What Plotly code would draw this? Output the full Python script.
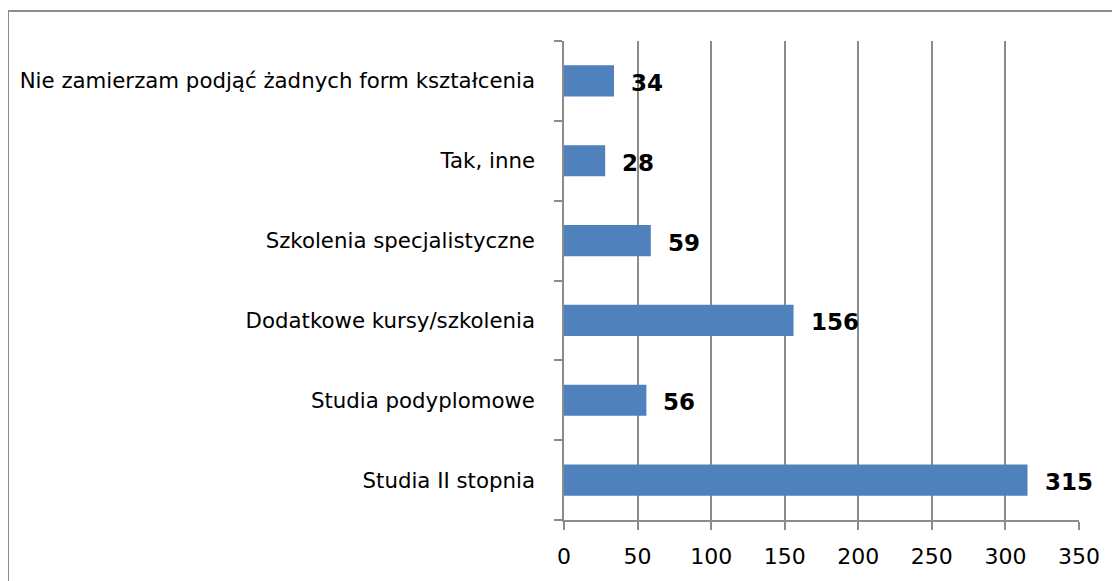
import plotly.graph_objects as go

categories = [
    "Studia II stopnia",
    "Studia podyplomowe",
    "Dodatkowe kursy/szkolenia",
    "Szkolenia specjalistyczne",
    "Tak, inne",
    "Nie zamierzam podjąć żadnych form kształcenia",
]
values = [315, 56, 156, 59, 28, 34]
x_ticks = [0, 50, 100, 150, 200, 250, 300, 350]

# page has an 8px body margin, so the figure is sized to fit the window
W, H = 1112, 573
L, R, T, B = 556, 41, 33, 61
grey = "#8c8c8c"
font = "DejaVu Sans, Verdana, sans-serif"

fig = go.Figure(go.Bar(
    x=values, y=categories, orientation="h",
    marker=dict(color="#4f81bd", line=dict(width=0)),
    hoverinfo="skip",
))

for c, v in zip(categories, values):
    fig.add_annotation(
        x=v, y=c, text="<b>%d</b>" % v, showarrow=False,
        xanchor="left", yanchor="middle", xshift=15, yshift=-2,
        font=dict(size=23, color="black", family=font),
    )

# outer chart border (left and top edges visible)
pw, ph = W - L - R, H - T - B
fig.add_shape(
    type="rect", xref="paper", yref="paper",
    x0=(0 - L) / pw, x1=(W + 20 - L) / pw,
    y0=-(B + 20) / ph, y1=(H - 3 - B) / ph,
    line=dict(color=grey, width=2), fillcolor="rgba(0,0,0,0)",
    layer="below",
)

fig.update_layout(
    width=W, height=H,
    margin=dict(l=L, r=R, t=T, b=B),
    paper_bgcolor="white", plot_bgcolor="white",
    bargap=0.61, showlegend=False,
    font=dict(family=font, color="black", size=20),
)
fig.update_xaxes(
    range=[0, 350], tickvals=x_ticks, ticktext=[str(t) for t in x_ticks],
    showgrid=True, gridcolor=grey, gridwidth=1.5,
    showline=True, linecolor=grey, linewidth=1.5,
    ticks="outside", ticklen=8, tickcolor=grey, tickwidth=1.5,
    ticklabelstandoff=8, zeroline=False,
    tickfont=dict(size=22),
)
fig.update_yaxes(
    categoryorder="array", categoryarray=categories,
    showgrid=False, showline=True, linecolor=grey, linewidth=1.5,
    ticks="outside", tickson="boundaries", ticklen=8, tickcolor=grey, tickwidth=1.5,
    ticklabelstandoff=23,
    tickfont=dict(size=21.3),
)

fig.write_html("out.html")
